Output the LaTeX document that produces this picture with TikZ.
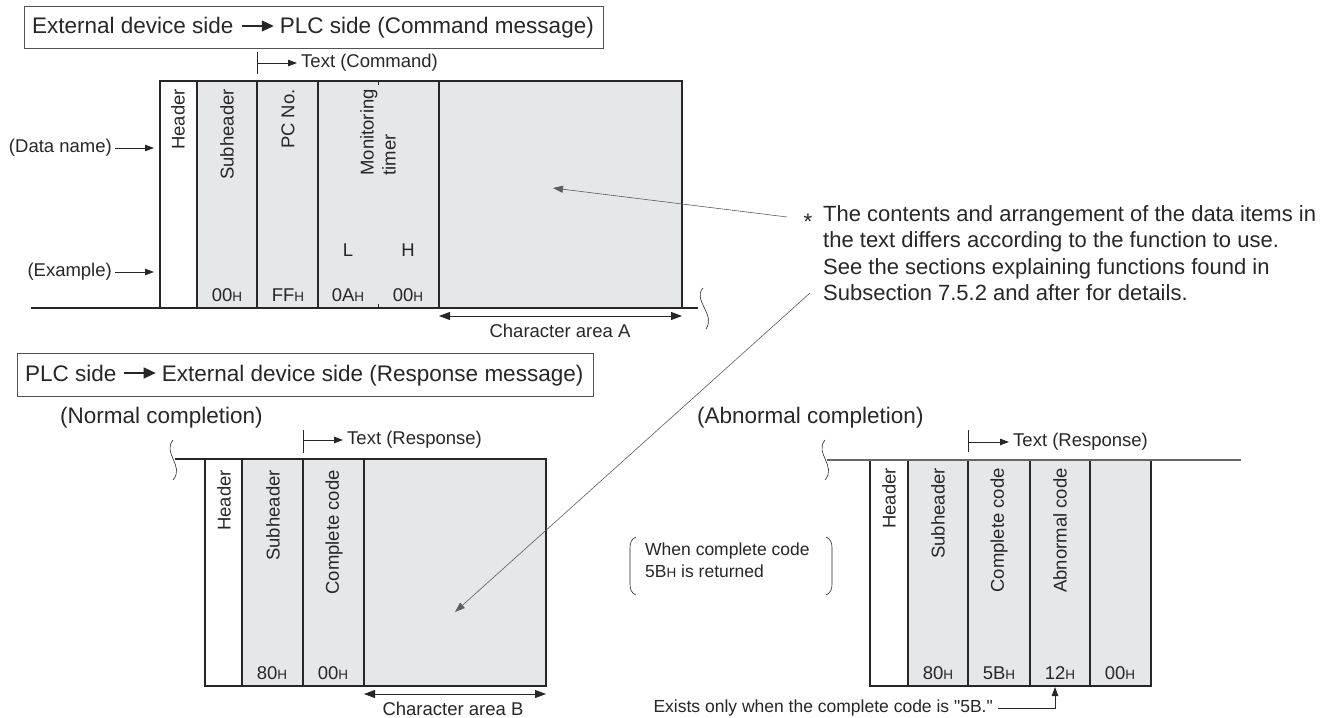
\documentclass[tikz,border=0pt]{standalone}
\usepackage{fontspec}
\setmainfont{Liberation Sans}[Ligatures=TeXOff]
\usetikzlibrary{arrows.meta,positioning,calc}
\definecolor{cellgray}{RGB}{230,231,233}
\definecolor{ink}{RGB}{40,38,38}
\newcommand{\hx}[1]{#1{\fontsize{13.5}{14}\selectfont H}}

\begin{document}
\begin{tikzpicture}[x=1pt,y=1pt,text=ink,
  frameline/.style={draw=ink,line width=1.3pt},
  thinline/.style={draw=ink,line width=0.8pt},
  leader/.style={draw=ink!75,line width=0.6pt,-{Triangle[length=10pt,width=7pt]}},
  bigf/.style={font=\fontsize{22.5}{23}\selectfont},
  medf/.style={font=\fontsize{18.5}{22}\selectfont},
  notef/.style={font=\fontsize{17.5}{22}\selectfont},
  lbl/.style={medf,rotate=90,anchor=east,inner sep=0pt},
  val/.style={medf,inner sep=0pt},
  tip/.style={-{Triangle[length=9pt,width=6.5pt]},thinline},
  bigtip/.style={-{Triangle[length=12pt,width=11pt]},draw=ink,line width=1.1pt},
  dimarr/.style={{Triangle[length=11pt,width=8pt]}-{Triangle[length=11pt,width=8pt]},draw=ink,line width=0.8pt},
  wave/.style={draw=ink,line width=0.6pt}]
 \useasboundingbox (0,0) rectangle (1329,-717);

 % command message
 \draw[draw=ink!80,line width=1pt] (24,-7) rectangle (603,-49);
 \node[bigf,anchor=base west,inner sep=0pt] (extA) at (32,-34) {External device side};
 \node[bigf,inner sep=0pt,base right=46pt of extA] (plcA) {PLC side (Command message)};
 \draw[bigtip] ([xshift=8pt,yshift=8pt]extA.base east) -- ([xshift=-6pt,yshift=8pt]plcA.base west);

 \node[medf,anchor=west,inner sep=0pt] (txtA) at (301,-63) {Text (Command)};
 \draw[thinline] (257,-52) -- (257,-74);
 \draw[tip] (257,-63) -- ([xshift=-4pt]txtA.west);

 \fill[cellgray] (197,-81) rectangle (682,-308);
 \foreach \x in {197,257,318,439} \draw[frameline] (\x,-81) -- (\x,-308);
 \draw[frameline] (160,-308) -- (160,-81) -- (682,-81) -- (682,-308);
 \draw[frameline] (31,-308) -- (698,-308);
 \draw[thinline] (378,-81) -- (378,-85) (378,-304) -- (378,-308);
 \draw[wave] (703,-288) .. controls (692,-300) and (716,-314) .. (706,-329);

 \foreach \x/\t/\n in {178/Header/hdA,227/Subheader/shA,288/PC No./pcA}
  \node[lbl] (\n) at (\x,-89) {\t};
 \node[lbl,align=left] (monA) at (378,-89) {Monitoring\\timer};
 \node[medf] (lowA) at (348,-250) {L};
 \node[medf] (highA) at (408,-250) {H};
 \foreach \x/\v/\n in {227/00/vsA,288/FF/vpA,348/0A/vlA,408/00/vhA}
  \node[val] (\n) at (\x,-295) {\hx{\v}};

 \node[medf,anchor=east,inner sep=0pt] (dname) at (112,-148) {(Data name)};
 \coordinate (dnameE) at (154,-148);
 \draw[tip] ([xshift=3pt]dname.east) -- (dnameE);
 \node[medf,anchor=east,inner sep=0pt] (dexam) at (112,-272) {(Example)};
 \coordinate (dexamE) at (154,-272);
 \draw[tip] ([xshift=3pt]dexam.east) -- (dexamE);

 \coordinate (caAL) at (439,-316); \coordinate (caAR) at (682,-316);
 \draw[dimarr] (caAL) -- (caAR);
 \node[medf] (caA) at (560,-331) {Character area A};

 % note
 \node[anchor=north west,align=left,inner sep=0pt,font=\fontsize{22}{26.3}\selectfont] (note) at (823,-205.5)
  {The contents and arrangement of the data items in\\the text differs according to the function to use.\\See the sections explaining functions found in\\Subsection 7.5.2 and after for details.};
 \node[bigf,inner sep=0pt] (star) at (808,-222) {*};

 % response message
 \draw[draw=ink!80,line width=1pt] (17,-353) rectangle (593,-396);
 \node[bigf,anchor=base west,inner sep=0pt] (plcB) at (25,-381) {PLC side};
 \node[bigf,inner sep=0pt,base right=45pt of plcB] (extB) {External device side (Response message)};
 \draw[bigtip] ([xshift=7pt,yshift=8pt]plcB.base east) -- ([xshift=-6pt,yshift=8pt]extB.base west);

 % normal completion
 \node[bigf,anchor=west,inner sep=0pt] (normT) at (60,-418) {(Normal completion)};
 \node[medf,anchor=west,inner sep=0pt] (txtB) at (347,-440) {Text (Response)};
 \draw[thinline] (303,-430) -- (303,-453);
 \draw[tip] (303,-440) -- ([xshift=-4pt]txtB.west);
 \fill[cellgray] (242,-459) rectangle (546,-686);
 \foreach \x in {242,303,364} \draw[frameline] (\x,-459) -- (\x,-686);
 \draw[frameline] (205,-459) rectangle (546,-686);
 \draw[frameline] (175,-459) -- (205,-459);
 \draw[wave] (173,-440) .. controls (162,-453) and (185,-466) .. (173,-480);
 \foreach \x/\t/\n in {224/Header/hdB,273/Subheader/shB,334/Complete code/ccB}
  \node[lbl] (\n) at (\x,-470) {\t};
 \foreach \x/\v/\n in {272/80/vsB,333/00/vcB}
  \node[val] (\n) at (\x,-673) {\hx{\v}};
 \coordinate (caBL) at (364,-694); \coordinate (caBR) at (546,-694);
 \draw[dimarr] (caBL) -- (caBR);
 \node[medf] (caB) at (453,-709) {Character area B};

 % abnormal completion
 \node[bigf,anchor=west,inner sep=0pt] (abnT) at (697,-418) {(Abnormal completion)};
 \node[medf,anchor=west,inner sep=0pt] (txtC) at (1013,-442) {Text (Response)};
 \draw[thinline] (968,-430) -- (968,-452);
 \draw[tip] (968,-442) -- ([xshift=-4pt]txtC.west);
 \fill[cellgray] (908,-460) rectangle (1151,-686);
 \foreach \x in {908,968,1030,1090} \draw[frameline] (\x,-460) -- (\x,-686);
 \draw[frameline] (870,-460) rectangle (1151,-686);
 \draw[draw=ink!70,line width=1.2pt] (827,-460) -- (1241,-460);
 \draw[wave] (825,-440) .. controls (814,-453) and (837,-466) .. (825,-480);
 \foreach \x/\t/\n in {889/Header/hdC,938/Subheader/shC,999/Complete code/ccC,1060/Abnormal code/acC}
  \node[lbl] (\n) at (\x,-468) {\t};
 \foreach \x/\v/\n in {938/80/vsC,999/5B/vcC,1060/12/vaC,1120/00/vzC}
  \node[val] (\n) at (\x,-673) {\hx{\v}};

 \node[notef,anchor=north west,align=left,inner sep=0pt] (when) at (645,-543)
  {When complete code\\\hx{5B} is returned};
 \draw[wave] (636,-537) to[out=200,in=90] (630,-548) -- (630,-584) to[out=-90,in=160] (636,-595);
 \draw[wave] (826,-537) to[out=-20,in=90] (832,-548) -- (832,-584) to[out=-90,in=20] (826,-595);

 \node[notef,anchor=east,inner sep=0pt] (exists) at (993,-708) {Exists only when the complete code is "5B."};
 \coordinate (exT) at (1055,-687);
 \draw[tip] ([xshift=5pt]exists.east) -| (exT);

 % note leaders
 \coordinate (ldA) at (787,-217); \coordinate (tipA) at (553,-188);
 \draw[leader] (ldA) -- (tipA);
 \coordinate (ldB) at (810,-293); \coordinate (tipB) at (455,-612);
 \draw[leader] (ldB) -- (tipB);
\end{tikzpicture}
\end{document}
